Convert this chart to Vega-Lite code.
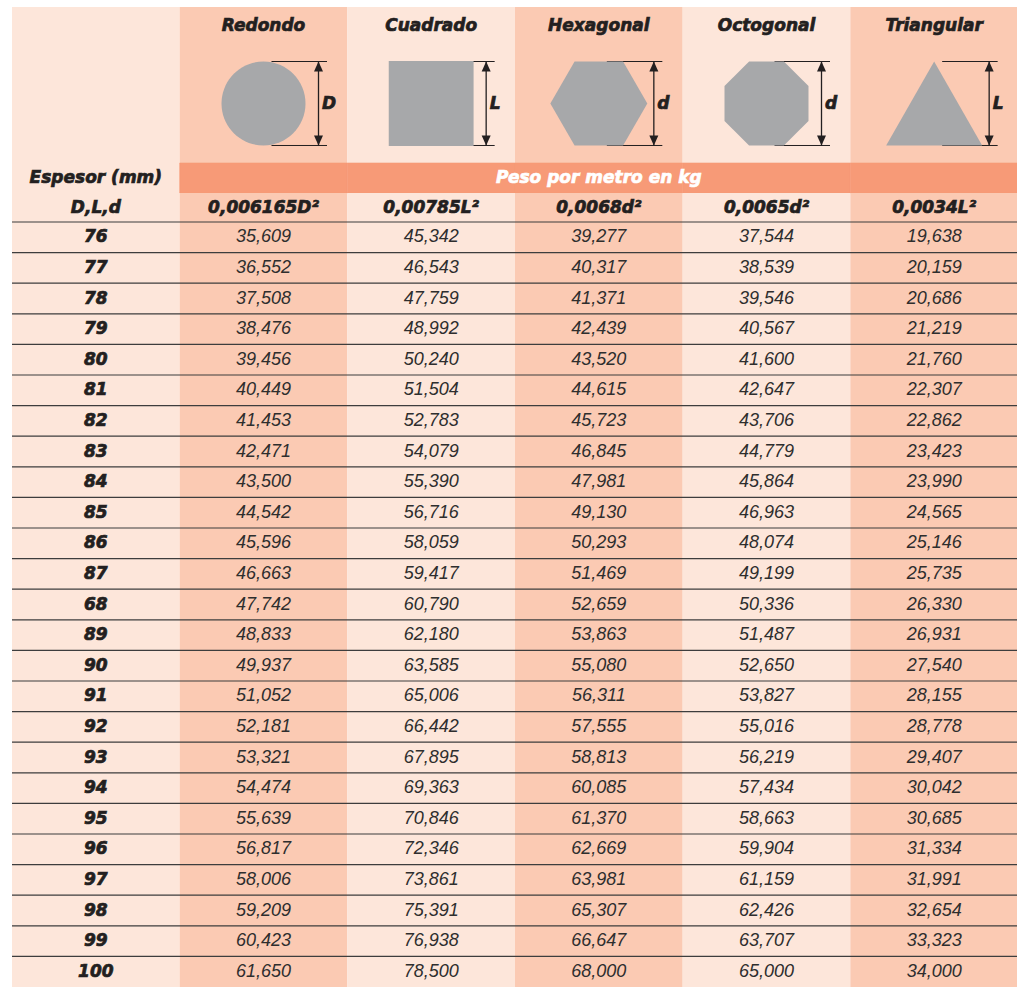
{
"$schema": "https://vega.github.io/schema/vega-lite/v6.json",
"padding": {"left": 11, "top": 7, "right": 0, "bottom": 0},
"spacing": 0,
"bounds": "flush",
"background": "white",
"config": {"view": {"stroke": null}, "locale": {"number": {"decimal": ",", "thousands": ".", "grouping": [3], "currency": ["", " €"]}}},
"datasets": {
"columnas": [
{"forma": "Espesor", "titulo": "", "formula": "D,L,d", "letra": ""},
{"forma": "Redondo", "titulo": "Redondo", "formula": "0,006165D²", "letra": "D"},
{"forma": "Cuadrado", "titulo": "Cuadrado", "formula": "0,00785L²", "letra": "L"},
{"forma": "Hexagonal", "titulo": "Hexagonal", "formula": "0,0068d²", "letra": "d"},
{"forma": "Octogonal", "titulo": "Octogonal", "formula": "0,0065d²", "letra": "d"},
{"forma": "Triangular", "titulo": "Triangular", "formula": "0,0034L²", "letra": "L"}
],
"tabla": [
{"espesor": "76", "Redondo": 35.609, "Cuadrado": 45.342, "Hexagonal": 39.277, "Octogonal": 37.544, "Triangular": 19.638},
{"espesor": "77", "Redondo": 36.552, "Cuadrado": 46.543, "Hexagonal": 40.317, "Octogonal": 38.539, "Triangular": 20.159},
{"espesor": "78", "Redondo": 37.508, "Cuadrado": 47.759, "Hexagonal": 41.371, "Octogonal": 39.546, "Triangular": 20.686},
{"espesor": "79", "Redondo": 38.476, "Cuadrado": 48.992, "Hexagonal": 42.439, "Octogonal": 40.567, "Triangular": 21.219},
{"espesor": "80", "Redondo": 39.456, "Cuadrado": 50.240, "Hexagonal": 43.520, "Octogonal": 41.600, "Triangular": 21.760},
{"espesor": "81", "Redondo": 40.449, "Cuadrado": 51.504, "Hexagonal": 44.615, "Octogonal": 42.647, "Triangular": 22.307},
{"espesor": "82", "Redondo": 41.453, "Cuadrado": 52.783, "Hexagonal": 45.723, "Octogonal": 43.706, "Triangular": 22.862},
{"espesor": "83", "Redondo": 42.471, "Cuadrado": 54.079, "Hexagonal": 46.845, "Octogonal": 44.779, "Triangular": 23.423},
{"espesor": "84", "Redondo": 43.500, "Cuadrado": 55.390, "Hexagonal": 47.981, "Octogonal": 45.864, "Triangular": 23.990},
{"espesor": "85", "Redondo": 44.542, "Cuadrado": 56.716, "Hexagonal": 49.130, "Octogonal": 46.963, "Triangular": 24.565},
{"espesor": "86", "Redondo": 45.596, "Cuadrado": 58.059, "Hexagonal": 50.293, "Octogonal": 48.074, "Triangular": 25.146},
{"espesor": "87", "Redondo": 46.663, "Cuadrado": 59.417, "Hexagonal": 51.469, "Octogonal": 49.199, "Triangular": 25.735},
{"espesor": "68", "Redondo": 47.742, "Cuadrado": 60.790, "Hexagonal": 52.659, "Octogonal": 50.336, "Triangular": 26.330},
{"espesor": "89", "Redondo": 48.833, "Cuadrado": 62.180, "Hexagonal": 53.863, "Octogonal": 51.487, "Triangular": 26.931},
{"espesor": "90", "Redondo": 49.937, "Cuadrado": 63.585, "Hexagonal": 55.080, "Octogonal": 52.650, "Triangular": 27.540},
{"espesor": "91", "Redondo": 51.052, "Cuadrado": 65.006, "Hexagonal": 56.311, "Octogonal": 53.827, "Triangular": 28.155},
{"espesor": "92", "Redondo": 52.181, "Cuadrado": 66.442, "Hexagonal": 57.555, "Octogonal": 55.016, "Triangular": 28.778},
{"espesor": "93", "Redondo": 53.321, "Cuadrado": 67.895, "Hexagonal": 58.813, "Octogonal": 56.219, "Triangular": 29.407},
{"espesor": "94", "Redondo": 54.474, "Cuadrado": 69.363, "Hexagonal": 60.085, "Octogonal": 57.434, "Triangular": 30.042},
{"espesor": "95", "Redondo": 55.639, "Cuadrado": 70.846, "Hexagonal": 61.370, "Octogonal": 58.663, "Triangular": 30.685},
{"espesor": "96", "Redondo": 56.817, "Cuadrado": 72.346, "Hexagonal": 62.669, "Octogonal": 59.904, "Triangular": 31.334},
{"espesor": "97", "Redondo": 58.006, "Cuadrado": 73.861, "Hexagonal": 63.981, "Octogonal": 61.159, "Triangular": 31.991},
{"espesor": "98", "Redondo": 59.209, "Cuadrado": 75.391, "Hexagonal": 65.307, "Octogonal": 62.426, "Triangular": 32.654},
{"espesor": "99", "Redondo": 60.423, "Cuadrado": 76.938, "Hexagonal": 66.647, "Octogonal": 63.707, "Triangular": 33.323},
{"espesor": "100", "Redondo": 61.650, "Cuadrado": 78.500, "Hexagonal": 68.000, "Octogonal": 65.000, "Triangular": 34.000}
]
},
"vconcat": [
{
"width": 1006, "height": 37,
"data": {"name": "columnas"},
"layer": [
{"mark": {"type": "rect"}, "encoding": {
"x": {"field": "forma", "type": "nominal", "axis": null, "scale": {"type": "band", "domain": ["Espesor", "Redondo", "Cuadrado", "Hexagonal", "Octogonal", "Triangular"], "paddingInner": 0, "paddingOuter": 0}},
"fill": {"field": "forma", "type": "nominal", "legend": null, "scale": {"domain": ["Espesor", "Redondo", "Cuadrado", "Hexagonal", "Octogonal", "Triangular"], "range": ["#fde6da", "#fbcab3", "#fde6da", "#fbcab3", "#fde6da", "#fbcab3"]}}}},
{"mark": {"type": "text", "font": "DejaVu Sans", "fontSize": 17, "fontWeight": "bold", "fontStyle": "italic", "color": "#231f20", "stroke": "#231f20", "strokeWidth": 0.7, "baseline": "middle"},
"encoding": {
"x": {"field": "forma", "type": "nominal", "axis": null, "scale": {"type": "band", "domain": ["Espesor", "Redondo", "Cuadrado", "Hexagonal", "Octogonal", "Triangular"], "paddingInner": 0, "paddingOuter": 0}},
"text": {"field": "titulo"}}}
]
},
{
"width": 1006, "height": 119,
"data": {"name": "columnas"},
"layer": [
{"mark": {"type": "rect"}, "encoding": {
"x": {"field": "forma", "type": "nominal", "axis": null, "scale": {"type": "band", "domain": ["Espesor", "Redondo", "Cuadrado", "Hexagonal", "Octogonal", "Triangular"], "paddingInner": 0, "paddingOuter": 0}},
"fill": {"field": "forma", "type": "nominal", "legend": null, "scale": {"domain": ["Espesor", "Redondo", "Cuadrado", "Hexagonal", "Octogonal", "Triangular"], "range": ["#fde6da", "#fbcab3", "#fde6da", "#fbcab3", "#fde6da", "#fbcab3"]}}}},
{"transform": [{"filter": "datum.forma !== 'Espesor'"}],
"mark": {"type": "rule", "color": "#231f20", "strokeWidth": 1, "xOffset": 8, "x2Offset": 63.5},
"encoding": {
"x": {"field": "forma", "type": "nominal", "axis": null, "bandPosition": 0.5, "scale": {"type": "band", "domain": ["Espesor", "Redondo", "Cuadrado", "Hexagonal", "Octogonal", "Triangular"], "paddingInner": 0, "paddingOuter": 0}},
"x2": {"field": "forma"},
"y": {"datum": 1, "type": "quantitative", "axis": null, "scale": {"domain": [-1.4167, 1.4167], "nice": false, "zero": false}}}},
{"transform": [{"filter": "datum.forma !== 'Espesor'"}],
"mark": {"type": "rule", "color": "#231f20", "strokeWidth": 1, "xOffset": 8, "x2Offset": 63.5},
"encoding": {
"x": {"field": "forma", "type": "nominal", "axis": null, "bandPosition": 0.5, "scale": {"type": "band", "domain": ["Espesor", "Redondo", "Cuadrado", "Hexagonal", "Octogonal", "Triangular"], "paddingInner": 0, "paddingOuter": 0}},
"x2": {"field": "forma"},
"y": {"datum": -1, "type": "quantitative", "axis": null, "scale": {"domain": [-1.4167, 1.4167], "nice": false, "zero": false}}}},
{"transform": [{"filter": "datum.forma !== 'Espesor'"}],
"mark": {"type": "rule", "color": "#231f20", "strokeWidth": 1.3, "xOffset": 55},
"encoding": {
"x": {"field": "forma", "type": "nominal", "axis": null, "bandPosition": 0.5, "scale": {"type": "band", "domain": ["Espesor", "Redondo", "Cuadrado", "Hexagonal", "Octogonal", "Triangular"], "paddingInner": 0, "paddingOuter": 0}},
"y": {"datum": 1, "type": "quantitative", "axis": null, "scale": {"domain": [-1.4167, 1.4167], "nice": false, "zero": false}},
"y2": {"datum": -1}}},
{"transform": [{"filter": "datum.forma !== 'Espesor'"}],
"mark": {"type": "point", "shape": "M0,0L0.5,1.1L-0.5,1.1Z", "filled": true, "size": 324, "color": "#231f20", "opacity": 1, "xOffset": 55},
"encoding": {
"x": {"field": "forma", "type": "nominal", "axis": null, "bandPosition": 0.5, "scale": {"type": "band", "domain": ["Espesor", "Redondo", "Cuadrado", "Hexagonal", "Octogonal", "Triangular"], "paddingInner": 0, "paddingOuter": 0}},
"y": {"datum": 1, "type": "quantitative", "axis": null, "scale": {"domain": [-1.4167, 1.4167], "nice": false, "zero": false}}}},
{"transform": [{"filter": "datum.forma !== 'Espesor'"}],
"mark": {"type": "point", "shape": "M0,0L0.5,-1.1L-0.5,-1.1Z", "filled": true, "size": 324, "color": "#231f20", "opacity": 1, "xOffset": 55},
"encoding": {
"x": {"field": "forma", "type": "nominal", "axis": null, "bandPosition": 0.5, "scale": {"type": "band", "domain": ["Espesor", "Redondo", "Cuadrado", "Hexagonal", "Octogonal", "Triangular"], "paddingInner": 0, "paddingOuter": 0}},
"y": {"datum": -1, "type": "quantitative", "axis": null, "scale": {"domain": [-1.4167, 1.4167], "nice": false, "zero": false}}}},
{"transform": [{"filter": "datum.forma !== 'Espesor'"}],
"mark": {"type": "point", "filled": true, "size": 7056, "color": "#a7a8aa", "opacity": 1, "strokeWidth": 0},
"encoding": {
"x": {"field": "forma", "type": "nominal", "axis": null, "bandPosition": 0.5, "scale": {"type": "band", "domain": ["Espesor", "Redondo", "Cuadrado", "Hexagonal", "Octogonal", "Triangular"], "paddingInner": 0, "paddingOuter": 0}},
"y": {"datum": 0, "type": "quantitative", "axis": null, "scale": {"domain": [-1.4167, 1.4167], "nice": false, "zero": false}},
"shape": {"field": "forma", "type": "nominal", "legend": null, "scale": {"domain": ["Redondo", "Cuadrado", "Hexagonal", "Octogonal", "Triangular"], "range": ["M1,0A1,1,0,1,1,-1,0A1,1,0,1,1,1,0Z", "M-1.01,-1.01L1.01,-1.01L1.01,1.01L-1.01,1.01Z", "M-1.1547,0L-0.5774,-1L0.5774,-1L1.1547,0L0.5774,1L-0.5774,1Z", "M-0.4142,-1L0.4142,-1L1,-0.4142L1,0.4142L0.4142,1L-0.4142,1L-1,0.4142L-1,-0.4142Z", "M0,-1L1.1429,1L-1.1429,1Z"]}}}},
{"transform": [{"filter": "datum.forma !== 'Espesor'"}],
"mark": {"type": "text", "font": "DejaVu Sans", "fontSize": 17, "fontWeight": "bold", "fontStyle": "italic", "color": "#231f20", "stroke": "#231f20", "strokeWidth": 0.7, "baseline": "middle", "align": "left", "xOffset": 58.5},
"encoding": {
"x": {"field": "forma", "type": "nominal", "axis": null, "bandPosition": 0.5, "scale": {"type": "band", "domain": ["Espesor", "Redondo", "Cuadrado", "Hexagonal", "Octogonal", "Triangular"], "paddingInner": 0, "paddingOuter": 0}},
"y": {"datum": 0, "type": "quantitative", "axis": null, "scale": {"domain": [-1.4167, 1.4167], "nice": false, "zero": false}},
"text": {"field": "letra"}}}
]
},
{
"width": 1006, "height": 30,
"data": {"name": "columnas"},
"layer": [
{"transform": [{"filter": "datum.forma === 'Espesor'"}], "mark": {"type": "rect", "color": "#fde6da"}, "encoding": {
"x": {"field": "forma", "type": "nominal", "axis": null, "scale": {"type": "band", "domain": ["Espesor", "Redondo", "Cuadrado", "Hexagonal", "Octogonal", "Triangular"], "paddingInner": 0, "paddingOuter": 0}}}},
{"transform": [{"filter": "datum.forma !== 'Espesor'"}], "mark": {"type": "rect", "color": "#f79a77", "stroke": "#f79a77", "strokeWidth": 0.6}, "encoding": {
"x": {"field": "forma", "type": "nominal", "axis": null, "scale": {"type": "band", "domain": ["Espesor", "Redondo", "Cuadrado", "Hexagonal", "Octogonal", "Triangular"], "paddingInner": 0, "paddingOuter": 0}}}},
{"transform": [{"filter": "datum.forma === 'Espesor'"}],
"mark": {"type": "text", "font": "DejaVu Sans", "fontSize": 17, "fontWeight": "bold", "fontStyle": "italic", "color": "#231f20", "stroke": "#231f20", "strokeWidth": 0.7, "baseline": "middle"},
"encoding": {
"x": {"field": "forma", "type": "nominal", "axis": null, "scale": {"type": "band", "domain": ["Espesor", "Redondo", "Cuadrado", "Hexagonal", "Octogonal", "Triangular"], "paddingInner": 0, "paddingOuter": 0}},
"text": {"value": "Espesor (mm)"}}},
{"transform": [{"filter": "datum.forma === 'Hexagonal'"}],
"mark": {"type": "text", "font": "DejaVu Sans", "fontSize": 17, "fontWeight": "bold", "fontStyle": "italic", "color": "white", "stroke": "white", "strokeWidth": 0.7, "baseline": "middle"},
"encoding": {
"x": {"field": "forma", "type": "nominal", "axis": null, "scale": {"type": "band", "domain": ["Espesor", "Redondo", "Cuadrado", "Hexagonal", "Octogonal", "Triangular"], "paddingInner": 0, "paddingOuter": 0}},
"text": {"value": "Peso por metro en kg"}}}
]
},
{
"width": 1006, "height": 29,
"data": {"name": "columnas"},
"layer": [
{"mark": {"type": "rect"}, "encoding": {
"x": {"field": "forma", "type": "nominal", "axis": null, "scale": {"type": "band", "domain": ["Espesor", "Redondo", "Cuadrado", "Hexagonal", "Octogonal", "Triangular"], "paddingInner": 0, "paddingOuter": 0}},
"fill": {"field": "forma", "type": "nominal", "legend": null, "scale": {"domain": ["Espesor", "Redondo", "Cuadrado", "Hexagonal", "Octogonal", "Triangular"], "range": ["#fde6da", "#fbcab3", "#fde6da", "#fbcab3", "#fde6da", "#fbcab3"]}}}},
{"mark": {"type": "text", "font": "DejaVu Sans", "fontSize": 17, "fontWeight": "bold", "fontStyle": "italic", "color": "#231f20", "stroke": "#231f20", "strokeWidth": 0.7, "baseline": "middle"},
"encoding": {
"x": {"field": "forma", "type": "nominal", "axis": null, "scale": {"type": "band", "domain": ["Espesor", "Redondo", "Cuadrado", "Hexagonal", "Octogonal", "Triangular"], "paddingInner": 0, "paddingOuter": 0}},
"text": {"field": "formula"}}}
]
},
{
"width": 1006, "height": 765,
"data": {"name": "tabla"},
"layer": [
{"data": {"name": "columnas"}, "mark": {"type": "rect"}, "encoding": {
"x": {"field": "forma", "type": "nominal", "axis": null, "scale": {"type": "band", "domain": ["Espesor", "Redondo", "Cuadrado", "Hexagonal", "Octogonal", "Triangular"], "paddingInner": 0, "paddingOuter": 0}},
"fill": {"field": "forma", "type": "nominal", "legend": null, "scale": {"domain": ["Espesor", "Redondo", "Cuadrado", "Hexagonal", "Octogonal", "Triangular"], "range": ["#fde6da", "#fbcab3", "#fde6da", "#fbcab3", "#fde6da", "#fbcab3"]}}}},
{"mark": {"type": "rule", "color": "#3d3d3d", "strokeWidth": 1.2},
"encoding": {
"y": {"field": "espesor", "type": "ordinal", "axis": null, "bandPosition": 0, "scale": {"type": "band", "domain": ["76","77","78","79","80","81","82","83","84","85","86","87","68","89","90","91","92","93","94","95","96","97","98","99","100"], "paddingInner": 0, "paddingOuter": 0}}}},
{"mark": {"type": "text", "font": "DejaVu Sans", "fontSize": 17, "fontWeight": "bold", "fontStyle": "italic", "color": "#231f20", "stroke": "#231f20", "strokeWidth": 0.7, "baseline": "middle"},
"encoding": {
"x": {"datum": "Espesor", "type": "nominal", "axis": null, "scale": {"type": "band", "domain": ["Espesor", "Redondo", "Cuadrado", "Hexagonal", "Octogonal", "Triangular"], "paddingInner": 0, "paddingOuter": 0}},
"y": {"field": "espesor", "type": "ordinal", "axis": null, "scale": {"type": "band", "domain": ["76","77","78","79","80","81","82","83","84","85","86","87","68","89","90","91","92","93","94","95","96","97","98","99","100"], "paddingInner": 0, "paddingOuter": 0}},
"text": {"field": "espesor"}}},
{"transform": [{"fold": ["Redondo", "Cuadrado", "Hexagonal", "Octogonal", "Triangular"], "as": ["forma", "peso"]}],
"mark": {"type": "text", "font": "Liberation Sans", "fontSize": 18, "fontStyle": "italic", "color": "#2e2e2e", "baseline": "middle"},
"encoding": {
"x": {"field": "forma", "type": "nominal", "axis": null, "scale": {"type": "band", "domain": ["Espesor", "Redondo", "Cuadrado", "Hexagonal", "Octogonal", "Triangular"], "paddingInner": 0, "paddingOuter": 0}},
"y": {"field": "espesor", "type": "ordinal", "axis": null, "scale": {"type": "band", "domain": ["76","77","78","79","80","81","82","83","84","85","86","87","68","89","90","91","92","93","94","95","96","97","98","99","100"], "paddingInner": 0, "paddingOuter": 0}},
"text": {"field": "peso", "type": "quantitative", "format": ".3f"}}}
]
}
]
}
